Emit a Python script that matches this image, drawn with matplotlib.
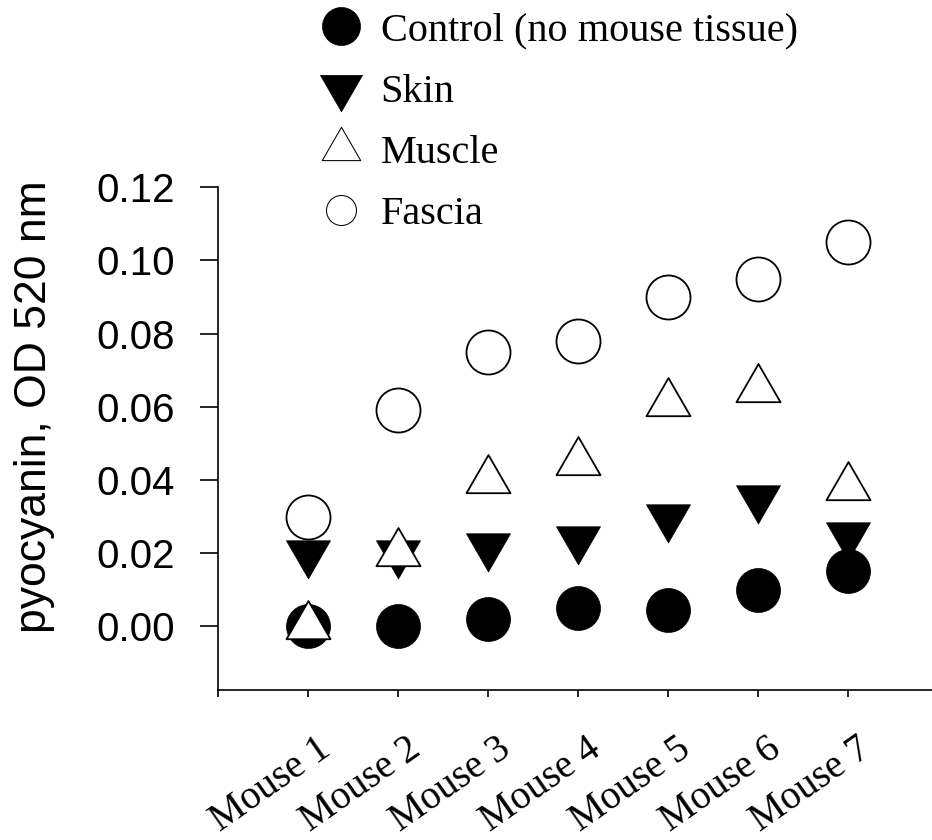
import matplotlib
matplotlib.use("Agg")
import matplotlib.pyplot as plt
import matplotlib.transforms as mtransforms
from matplotlib.path import Path
import numpy as np

# pyocyanin readings (OD 520 nm) per mouse and tissue
mice = ["Mouse 1", "Mouse 2", "Mouse 3", "Mouse 4", "Mouse 5", "Mouse 6", "Mouse 7"]
control = [0.000, 0.000, 0.002, 0.005, 0.0045, 0.010, 0.015]
skin = [0.020, 0.020, 0.022, 0.024, 0.030, 0.035, 0.025]
muscle = [0.000, 0.020, 0.040, 0.045, 0.061, 0.065, 0.038]
fascia = [0.030, 0.059, 0.075, 0.078, 0.090, 0.095, 0.105]
yticks = [0.00, 0.02, 0.04, 0.06, 0.08, 0.10, 0.12]

serif = "Liberation Serif"
sans = "Liberation Sans"

# equilateral triangles centred on their centroid (like SigmaPlot)
r3 = np.sqrt(3)
tri_up = Path([(0, 2 / r3), (-1, -1 / r3), (1, -1 / r3), (0, 2 / r3)],
              [Path.MOVETO, Path.LINETO, Path.LINETO, Path.CLOSEPOLY])
tri_down = Path([(0, -2 / r3), (-1, 1 / r3), (1, 1 / r3), (0, -2 / r3)],
                [Path.MOVETO, Path.LINETO, Path.LINETO, Path.CLOSEPOLY])

fig = plt.figure(figsize=(9.32, 8.4), dpi=100)
ax = fig.add_axes([218 / 932, 150 / 840, 714 / 932, 502.7 / 840])

x = np.arange(1, len(mice) + 1)
h1, = ax.plot(x, control, ls="none", marker="o", ms=31.7, mfc="black",
              mec="black", mew=0.5, label="Control (no mouse tissue)", clip_on=False)
h2, = ax.plot(x, skin, ls="none", marker=tri_down, ms=36.6, mfc="black",
              mec="black", mew=0.5, label="Skin", clip_on=False)
h3, = ax.plot(x, muscle, ls="none", marker=tri_up, ms=36.6, mfc="white",
              mec="black", mew=1.3, label="Muscle", clip_on=False)
h4, = ax.plot(x, fascia, ls="none", marker="o", ms=31.7, mfc="white",
              mec="black", mew=1.3, label="Fascia", clip_on=False)

ax.set_xlim(0, 714 / 90)
ax.set_ylim(-0.0174, 0.12)

for s in ["top", "right"]:
    ax.spines[s].set_visible(False)
for s in ["left", "bottom"]:
    ax.spines[s].set_linewidth(1.2)

ax.set_yticks(yticks)
ax.set_yticklabels(["%.2f" % v for v in yticks], fontsize=29, family=sans)
ax.tick_params(axis="y", direction="out", length=13, width=1.2, pad=18)

ax.set_xticks(np.arange(0, len(mice) + 1))
ax.set_xticklabels([""] + mice, fontsize=28.5, family=serif, rotation=35,
                   ha="right", va="top", rotation_mode="anchor")
ax.tick_params(axis="x", direction="out", length=5, width=1.2, pad=24)
shift = mtransforms.ScaledTranslation(8 / 100, 0, fig.dpi_scale_trans)
for lab in ax.get_xticklabels():
    lab.set_transform(lab.get_transform() + shift)

ax.set_ylabel("pyocyanin, OD 520 nm", fontsize=32, family=sans)
ax.yaxis.set_label_coords(-0.228, 0.5627)

leg = ax.legend(handles=[h1, h2, h3, h4], loc="upper left",
                bbox_to_anchor=(313 / 932, 1 - 12 / 840), bbox_transform=fig.transFigure,
                frameon=False, prop={"family": serif, "size": 29},
                handlelength=1.4, handletextpad=0.28, labelspacing=0.6,
                borderpad=0, borderaxespad=0)
lh = leg.legend_handles
lh[0].set_markersize(27.4)
lh[1].set_markersize(35)
lh[2].set_markersize(32)
lh[2].set_markeredgewidth(0.75)
lh[3].set_markersize(21.6)
lh[3].set_markeredgewidth(0.75)

fig.savefig("out.png", dpi=100, facecolor="white")
